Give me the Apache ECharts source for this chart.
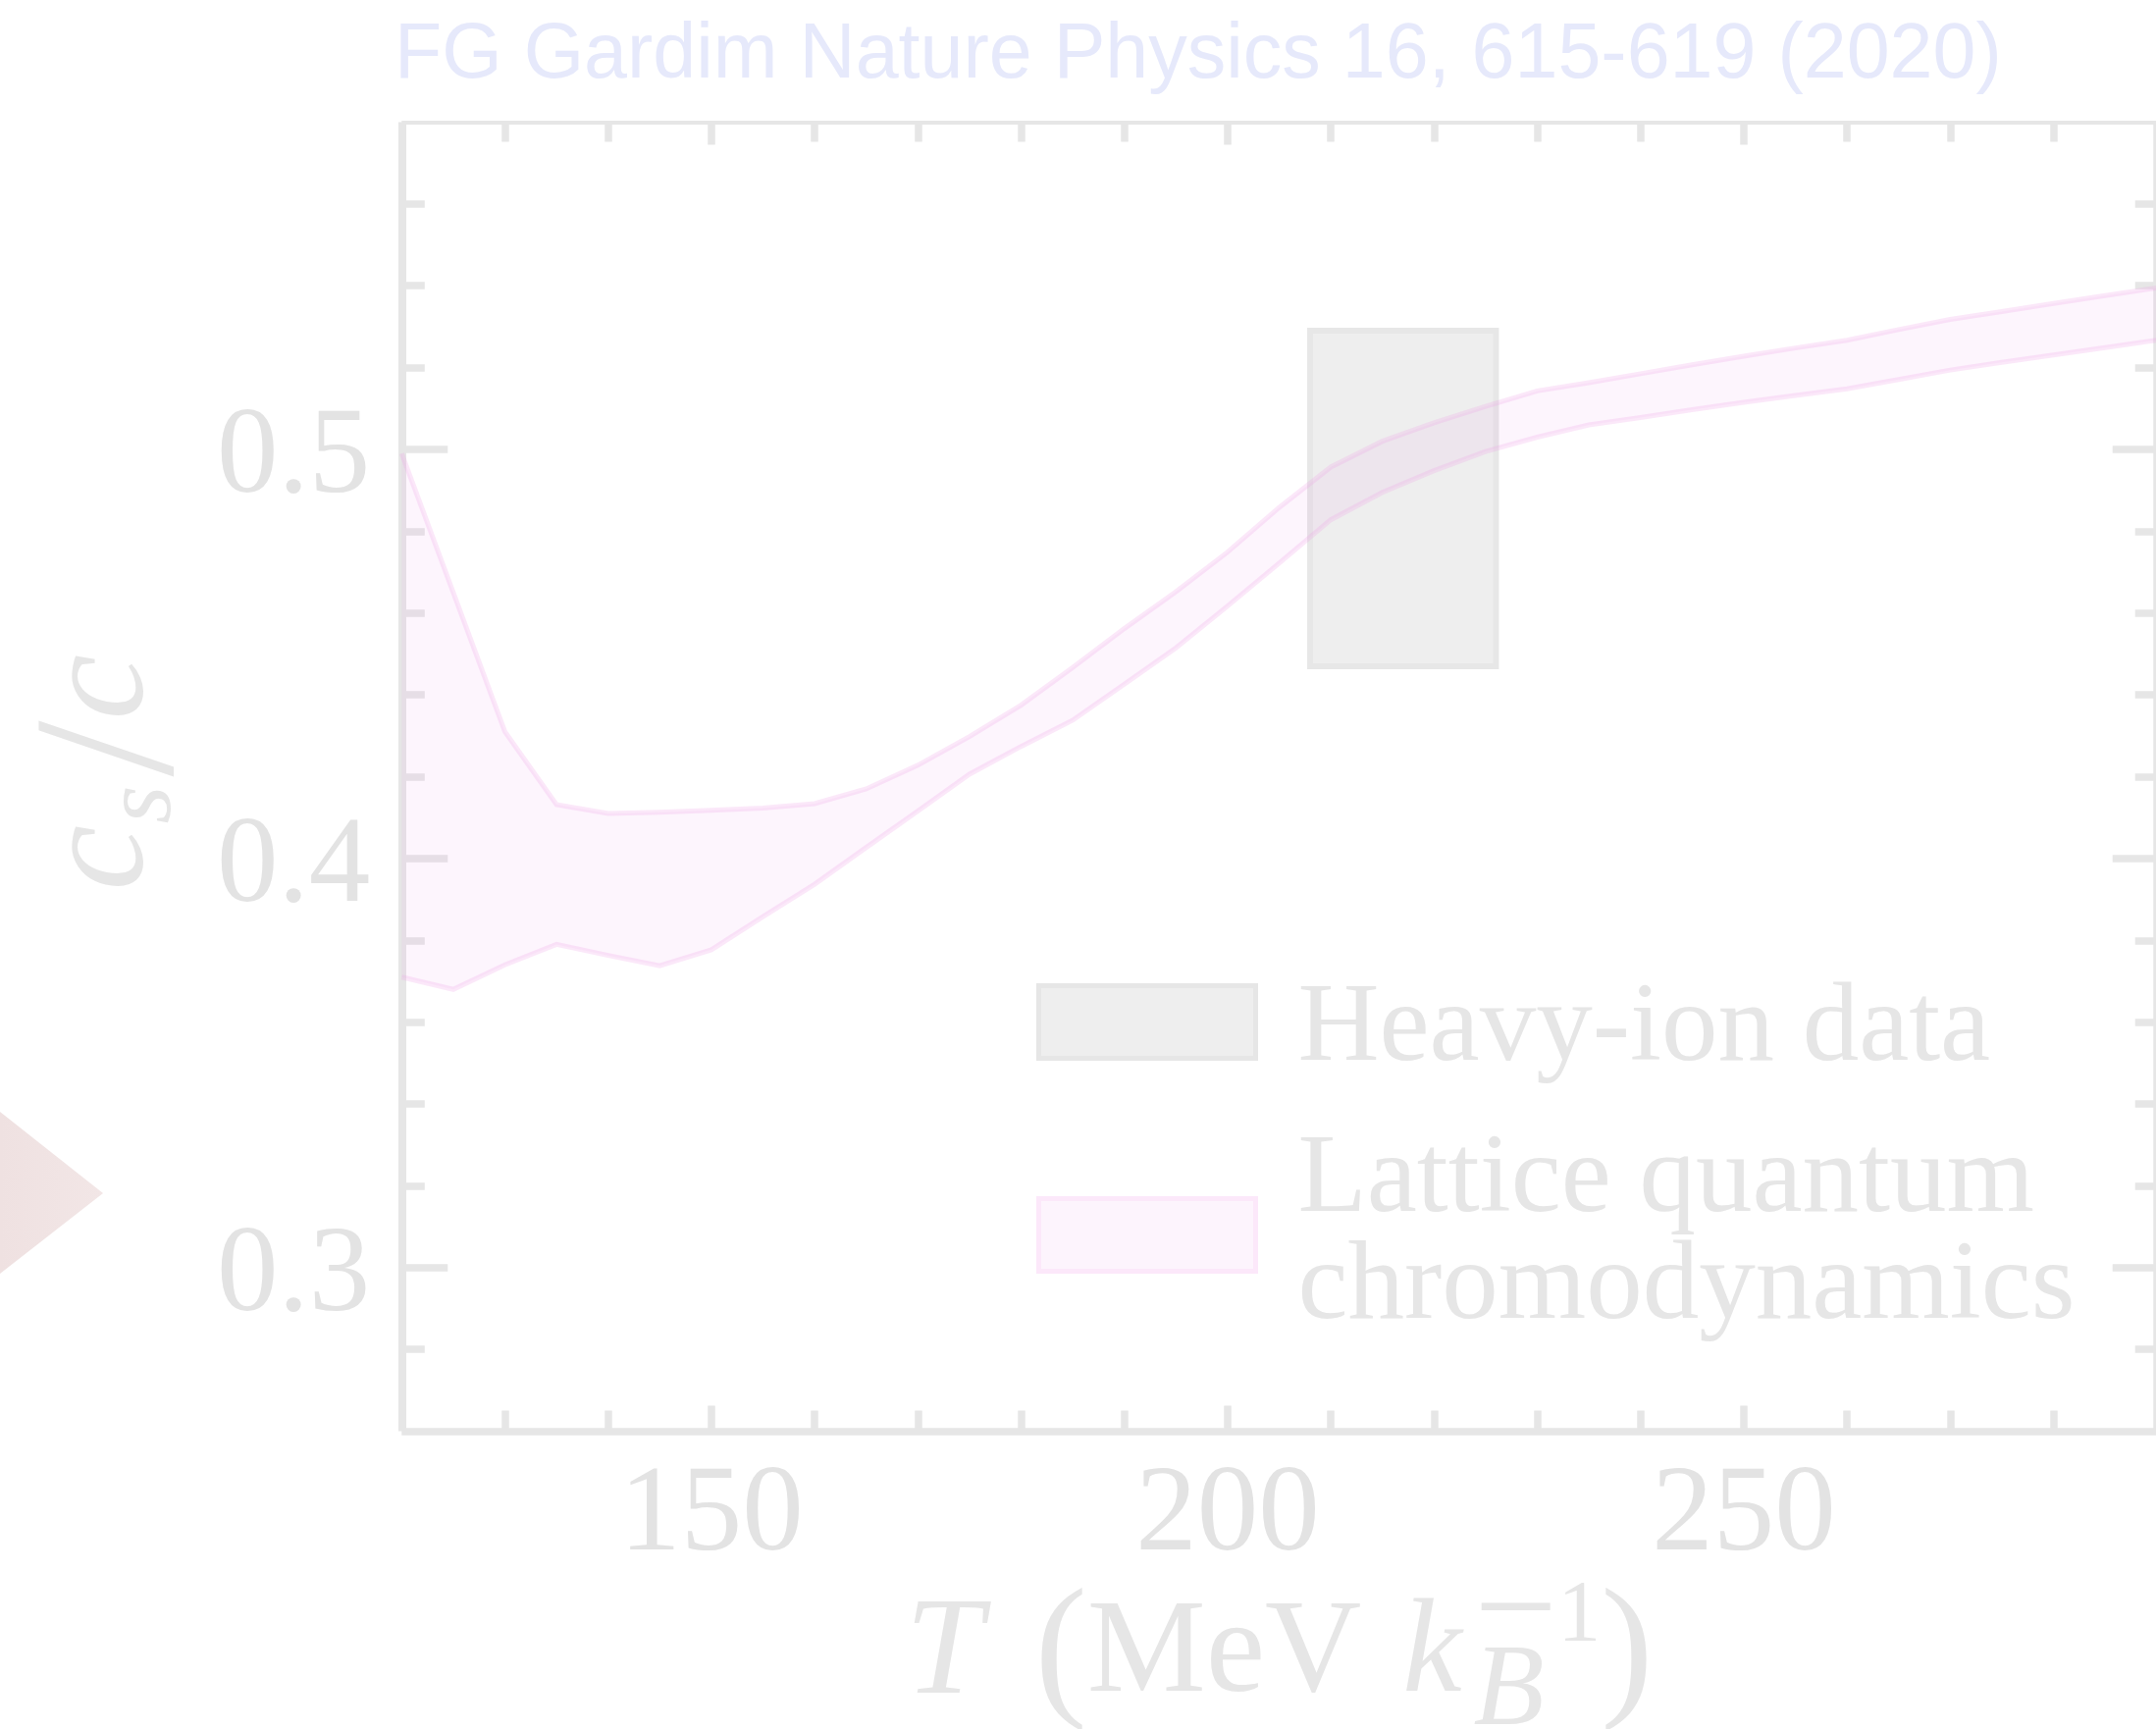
<!DOCTYPE html>
<html>
<head>
<meta charset="utf-8">
<script src="https://cdn.jsdelivr.net/npm/echarts@6/dist/echarts.min.js"></script>
<style>
html,body{margin:0;padding:0;background:#ffffff;}
#chart{width:2197px;height:1762px;}
</style>
</head>
<body>
<div id="chart"></div>
<script>
// ---- data ----
const temps = [120,125,130,135,140,145,150,155,160,165,170,175,180,185,190,195,200,205,210,215,220,225,230,235,240,245,250,255,260,265,270,275,280,285,290];
const latticeUpper = [0.499,0.465,0.431,0.4132,0.411,0.4113,0.4118,0.4123,0.4134,0.417,0.4228,0.4298,0.4375,0.4467,0.4562,0.4652,0.4749,0.4858,0.4957,0.502,0.5065,0.5105,0.5143,0.5163,0.5185,0.5207,0.5228,0.5248,0.5267,0.5293,0.5318,0.5337,0.5357,0.5376,0.5395];
const latticeLower = [0.371,0.368,0.374,0.379,0.3763,0.3738,0.3777,0.3858,0.3937,0.4027,0.4116,0.4206,0.4274,0.4338,0.4426,0.4515,0.4617,0.4722,0.4828,0.4895,0.4948,0.4995,0.503,0.506,0.5078,0.5097,0.5115,0.5132,0.5148,0.5171,0.5194,0.5213,0.5231,0.5249,0.5267];
const heavyIonT = [208, 226];
const heavyIonCs = [0.447, 0.529];
const xMajorTicks = [150, 200, 250];
const xMinorTicks = [130,140,160,170,180,190,210,220,230,240,260,270,280];
const yMajorTicks = [0.3, 0.4, 0.5];
const yMinorTicks = [0.28,0.32,0.34,0.36,0.38,0.42,0.44,0.46,0.48,0.52,0.54,0.56];
const seriesNames = ['Heavy-ion data', 'Lattice quantum\nchromodynamics'];
const titleText = 'FG Gardim Nature Physics 16, 615-619 (2020)';

// ---- styles ----
const AX = '#e6e6e6';
const LBL = '#e3e3e3';
const SERIF = 'Liberation Serif';
const BAND_LINE = 'rgba(240,160,230,0.24)';
const BAND_FILL = 'rgba(235,130,225,0.08)';

const gridRect = {left: 409.3, top: 124.5, width: 1788.4, height: 1334, outerBoundsMode: 'none', containLabel: false};

function xAxisDef(gridIndex, position, ticks, tickLen, lineW, showLine, showLabel) {
  return {
    type: 'value', gridIndex: gridIndex, position: position, min: 120, max: 290,
    nameMoveOverlap: false,
    axisLine: {show: showLine, onZero: false, lineStyle: {color: AX, width: lineW, cap: 'butt'}},
    axisTick: {show: true, inside: true, length: tickLen, customValues: ticks, lineStyle: {color: AX, width: 7.5}},
    axisLabel: {show: showLabel, customValues: ticks, margin: 77.5, color: LBL, fontFamily: SERIF, fontSize: 125,
      verticalAlign: 'top', lineHeight: 20},
    splitLine: {show: false}, minorTick: {show: false}
  };
}
function yAxisDef(gridIndex, position, ticks, tickLen, lineW, showLine, showLabel) {
  return {
    type: 'value', gridIndex: gridIndex, position: position, min: 0.26, max: 0.58,
    axisLine: {show: showLine, onZero: false, lineStyle: {color: AX, width: lineW, cap: 'butt'}},
    axisTick: {show: true, inside: true, length: tickLen, customValues: ticks, lineStyle: {color: AX, width: 7.5}},
    axisLabel: {show: showLabel, customValues: ticks, margin: 32, color: LBL, fontFamily: SERIF, fontSize: 125,
      verticalAlign: 'top', lineHeight: 21,
      formatter: function (v) { return v.toFixed(1); }},
    splitLine: {show: false}, minorTick: {show: false}
  };
}

const xMain = xAxisDef(0, 'bottom', xMajorTicks, 26, 7.5, true, true);
xMain.name = '{i|T}{s1| }{p|(}{r|MeV}{s2| }{k|k}{s3| }{sb|B}{sm|\u2212}{sp|1}{p|)}';
xMain.nameLocation = 'middle';
xMain.nameGap = 109;
xMain.nameTextStyle = {
  color: AX, fontFamily: SERIF, fontSize: 136, lineHeight: 240,
  rich: {
    i: {fontFamily: SERIF, fontStyle: 'italic', fontSize: 142, lineHeight: 240, color: AX, align: 'left'},
    k: {fontFamily: SERIF, fontStyle: 'italic', fontSize: 136, lineHeight: 240, color: AX, align: 'left'},
    r: {fontFamily: SERIF, fontSize: 136, lineHeight: 240, color: AX, align: 'left'},
    p: {fontFamily: SERIF, fontSize: 160, lineHeight: 240, color: AX, align: 'left'},
    s1: {fontSize: 136, lineHeight: 240, width: 53, align: 'left'},
    s2: {fontSize: 136, lineHeight: 240, width: 42, align: 'left'},
    s3: {fontSize: 136, lineHeight: 240, width: 12, align: 'left'},
    sb: {fontFamily: SERIF, fontStyle: 'italic', fontSize: 118, lineHeight: 240, verticalAlign: 'bottom', padding: [0, 0, 23, 0], width: 1, color: AX, align: 'left'},
    sm: {fontFamily: SERIF, fontSize: 150, lineHeight: 240, verticalAlign: 'top', padding: [5, 0, 0, 0], color: AX, align: 'left'},
    sp: {fontFamily: SERIF, fontSize: 88, lineHeight: 240, verticalAlign: 'top', padding: [36, 0, 0, 0], color: AX, align: 'left'}
  }
};

const yMain = yAxisDef(0, 'left', yMajorTicks, 47, 8, true, true);

// y-axis title c_s/c, drawn as rotated text (baseline toward the axis)
const yTitleFont = function (size, italic) { return (italic ? 'italic ' : '') + size + 'px "Liberation Serif"'; };
const yTitle = {
  type: 'group', x: 156, y: 791.5, rotation: Math.PI / 2, silent: true, z: 10,
  children: [
    {type: 'text', x: -116, y: -50.6, style: {text: 'c', font: yTitleFont(150, true), fill: AX, align: 'left', verticalAlign: 'middle'}},
    {type: 'text', x: -48, y: -9.75, style: {text: 's', font: yTitleFont(100, true), fill: AX, align: 'left', verticalAlign: 'middle'}},
    {type: 'text', x: 0, y: -35.2, style: {text: '/', font: yTitleFont(205, false), fill: AX, align: 'left', verticalAlign: 'middle'}},
    {type: 'text', x: 58, y: -50.6, style: {text: 'c', font: yTitleFont(150, true), fill: AX, align: 'left', verticalAlign: 'middle'}}
  ]
};

const legendText = {fontFamily: SERIF, fontSize: 115, lineHeight: 109, color: AX, padding: [0, 0, 0, 38]};

const option = {
  backgroundColor: '#ffffff',
  animation: false,
  title: {
    text: titleText, left: 397, top: 13,
    textStyle: {fontFamily: 'Liberation Sans', fontSize: 79, lineHeight: 79, fontWeight: 'normal', color: '#e6e9fb'}
  },
  graphic: [{
    type: 'polygon', z: 0, silent: true,
    shape: {points: [[0, 1133], [105, 1216], [0, 1298]]},
    style: {fill: {type: 'linear', x: 0, y: 0, x2: 1, y2: 0, colorStops: [{offset: 0, color: '#efe1e1'}, {offset: 1, color: '#f2e6e6'}]}}
  }, yTitle],
  legend: [
    {
      orient: 'vertical', left: 1056, top: 992, padding: 0,
      itemWidth: 221, itemHeight: 90, selectedMode: false, symbolKeepAspect: true,
      textStyle: legendText,
      data: [{name: seriesNames[0], icon: 'path://M0,0L221,0L221,74L0,74ZM0,90',
        itemStyle: {color: '#eeeeee', borderColor: '#e6e6e6', borderWidth: 5}}]
    },
    {
      orient: 'vertical', left: 1056, top: 1146.5, padding: 0,
      itemWidth: 221, itemHeight: 74, selectedMode: false,
      textStyle: legendText,
      data: [{name: seriesNames[1], icon: 'rect',
        itemStyle: {color: '#fdf4fd', borderColor: '#fce8fa', borderWidth: 5}}]
    }
  ],
  grid: [Object.assign({}, gridRect), Object.assign({}, gridRect)],
  xAxis: [
    xMain,
    xAxisDef(0, 'top', xMajorTicks, 23, 4, true, false),
    xAxisDef(1, 'bottom', xMinorTicks, 21, 7.5, false, false),
    xAxisDef(1, 'top', xMinorTicks, 20, 4, false, false)
  ],
  yAxis: [
    yMain,
    yAxisDef(0, 'right', yMajorTicks, 45, 7.5, true, false),
    yAxisDef(1, 'left', yMinorTicks, 23.5, 8, false, false),
    yAxisDef(1, 'right', yMinorTicks, 22, 7.5, false, false)
  ],
  series: [
    {
      name: seriesNames[0], type: 'custom', xAxisIndex: 0, yAxisIndex: 0, z: 1,
      itemStyle: {color: '#eeeeee'},
      encode: {x: [0, 1], y: [2, 3]},
      data: [[heavyIonT[0], heavyIonT[1], heavyIonCs[0], heavyIonCs[1]]],
      renderItem: function (params, api) {
        const p0 = api.coord([api.value(0), api.value(3)]);
        const p1 = api.coord([api.value(1), api.value(2)]);
        return {
          type: 'rect',
          shape: {x: p0[0], y: p0[1], width: p1[0] - p0[0], height: p1[1] - p0[1]},
          style: {fill: '#eeeeee', stroke: '#e7e7e7', lineWidth: 6}
        };
      }
    },
    {
      name: seriesNames[1], type: 'custom', xAxisIndex: 0, yAxisIndex: 0, z: 3,
      itemStyle: {color: '#fdf4fd'},
      encode: {x: 0, y: [1, 2]},
      data: temps.map(function (t, i) { return [t, latticeLower[i], latticeUpper[i]]; }),
      renderItem: function (params, api) {
        if (params.dataIndexInside !== 0) { return null; }
        const n = params.dataInsideLength;
        const up = [], lo = [];
        for (let j = 0; j < n; j++) {
          up.push(api.coord([api.value(0, j), api.value(2, j)]));
          lo.push(api.coord([api.value(0, j), api.value(1, j)]));
        }
        return {
          type: 'group',
          children: [
            {type: 'polygon', shape: {points: up.concat(lo.slice().reverse())}, style: {fill: BAND_FILL, stroke: null}},
            {type: 'polyline', shape: {points: up}, style: {stroke: BAND_LINE, lineWidth: 5, fill: null, lineJoin: 'miter'}},
            {type: 'polyline', shape: {points: lo}, style: {stroke: BAND_LINE, lineWidth: 5, fill: null, lineJoin: 'miter'}}
          ]
        };
      }
    }
  ]
};

const chart = echarts.init(document.getElementById('chart'), null, {renderer: 'canvas', width: 2197, height: 1762});
chart.setOption(option);
</script>
</body>
</html>
